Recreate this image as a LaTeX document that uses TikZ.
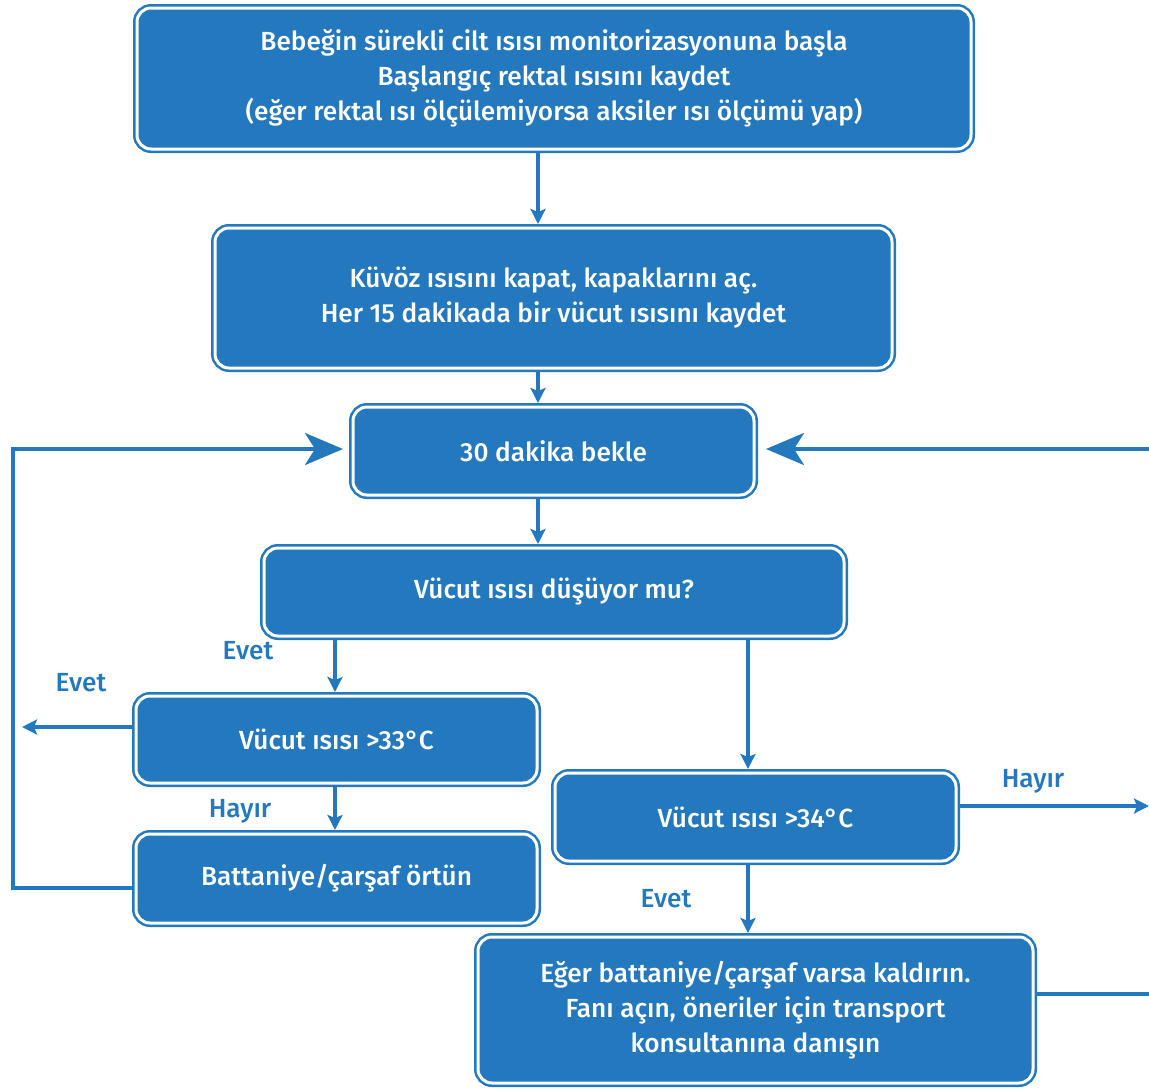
\documentclass[tikz,border=0pt]{standalone}
\usepackage{fontspec}
\setmainfont[UprightFont={* Medium}]{Fira Sans}
\usetikzlibrary{arrows.meta}
\definecolor{mainblue}{RGB}{35,120,190}
\begin{document}
\begin{tikzpicture}[x=1pt,y=-1pt,
  box/.style={rectangle, rounded corners=14pt, fill=mainblue, draw=mainblue,
    line width=2.5pt, double=white, double distance=3pt, outer sep=4pt,
    inner sep=0pt, text=white, align=center, font=\fontsize{26.2}{35}\selectfont},
  conn/.style={draw=mainblue, line width=4pt},
  arr/.style={conn, -{Stealth[length=15pt,width=15pt,inset=3pt]}},
  bigarr/.style={conn, -{Stealth[length=38pt,width=32pt,inset=10pt]}},
  lbl/.style={text=mainblue, font=\fontsize{26.2}{30}\selectfont, inner sep=0pt}]
\useasboundingbox (0,0) rectangle (1149,1088);
\node[box, minimum width=834pt, minimum height=141pt] (b1) at (554,78.5)
  {Bebeğin sürekli cilt ısısı monitorizasyonuna başla\\Başlangıç rektal ısısını kaydet\\(eğer rektal ısı ölçülemiyorsa aksiler ısı ölçümü yap)};
\node[box, minimum width=677pt, minimum height=140pt] (b2) at (553.5,298)
  {Küvöz ısısını kapat, kapaklarını aç.\\Her 15 dakikada bir vücut ısısını kaydet};
\node[box, minimum width=401pt, minimum height=88pt] (b3) at (553.5,451) {30 dakika bekle};
\node[box, minimum width=580pt, minimum height=88pt] (b4) at (554,592) {Vücut ısısı düşüyor mu?};
\node[box, minimum width=401pt, minimum height=87pt] (b5) at (336.5,739.5) {Vücut ısısı >33°C};
\node[box, minimum width=401pt, minimum height=89pt] (b6) at (336.5,878.5) {Battaniye/çarşaf örtün};
\node[box, minimum width=401pt, minimum height=88pt] (b7) at (755.5,817) {Vücut ısısı >34°C};
\node[box, minimum width=555pt, minimum height=146pt] (b8) at (755.5,1010)
  {Eğer battaniye/çarşaf varsa kaldırın.\\Fanı açın, öneriler için transport\\konsultanına danışın};
\coordinate (cA) at (538,0);
\coordinate (cL) at (335,0);
\coordinate (cR) at (748,0);
\coordinate (e1) at (22,727);
\coordinate (h1) at (1149,806);
\coordinate (lx) at (13,888);
\coordinate (ly) at (13,449);
\coordinate (rx) at (1151,994);
\coordinate (ry) at (1151,449);
\draw[arr] (b1.south -| cA) -- (b2.north -| cA);
\draw[arr] (b2.south -| cA) -- (b3.north -| cA);
\draw[arr] (b3.south -| cA) -- (b4.north -| cA);
\draw[arr] (b4.south -| cL) -- (b5.north -| cL);
\draw[arr] (b4.south -| cR) -- (b7.north -| cR);
\draw[arr] (b5.south -| cL) -- (b6.north -| cL);
\draw[arr] (b7.south -| cR) -- (b8.north -| cR);
\draw[arr] (b5.west |- e1) -- (e1);
\draw[arr] (b7.east |- h1) -- (h1);
\draw[bigarr, shorten >=6pt] (b6.west |- lx) -- (lx) -- (ly) -- (b3.west |- ly);
\draw[conn] (b8.east |- rx) -- (rx);
\draw[bigarr, shorten >=8pt] (ry) -- (b3.east |- ry);
\node[lbl] (l1) at (248,651) {Evet};
\node[lbl] (l2) at (81,683) {Evet};
\node[lbl] (l3) at (240,811) {Hayır};
\node[lbl] (l4) at (1033,781) {Hayır};
\node[lbl] (l5) at (666,899) {Evet};
\end{tikzpicture}
\end{document}
